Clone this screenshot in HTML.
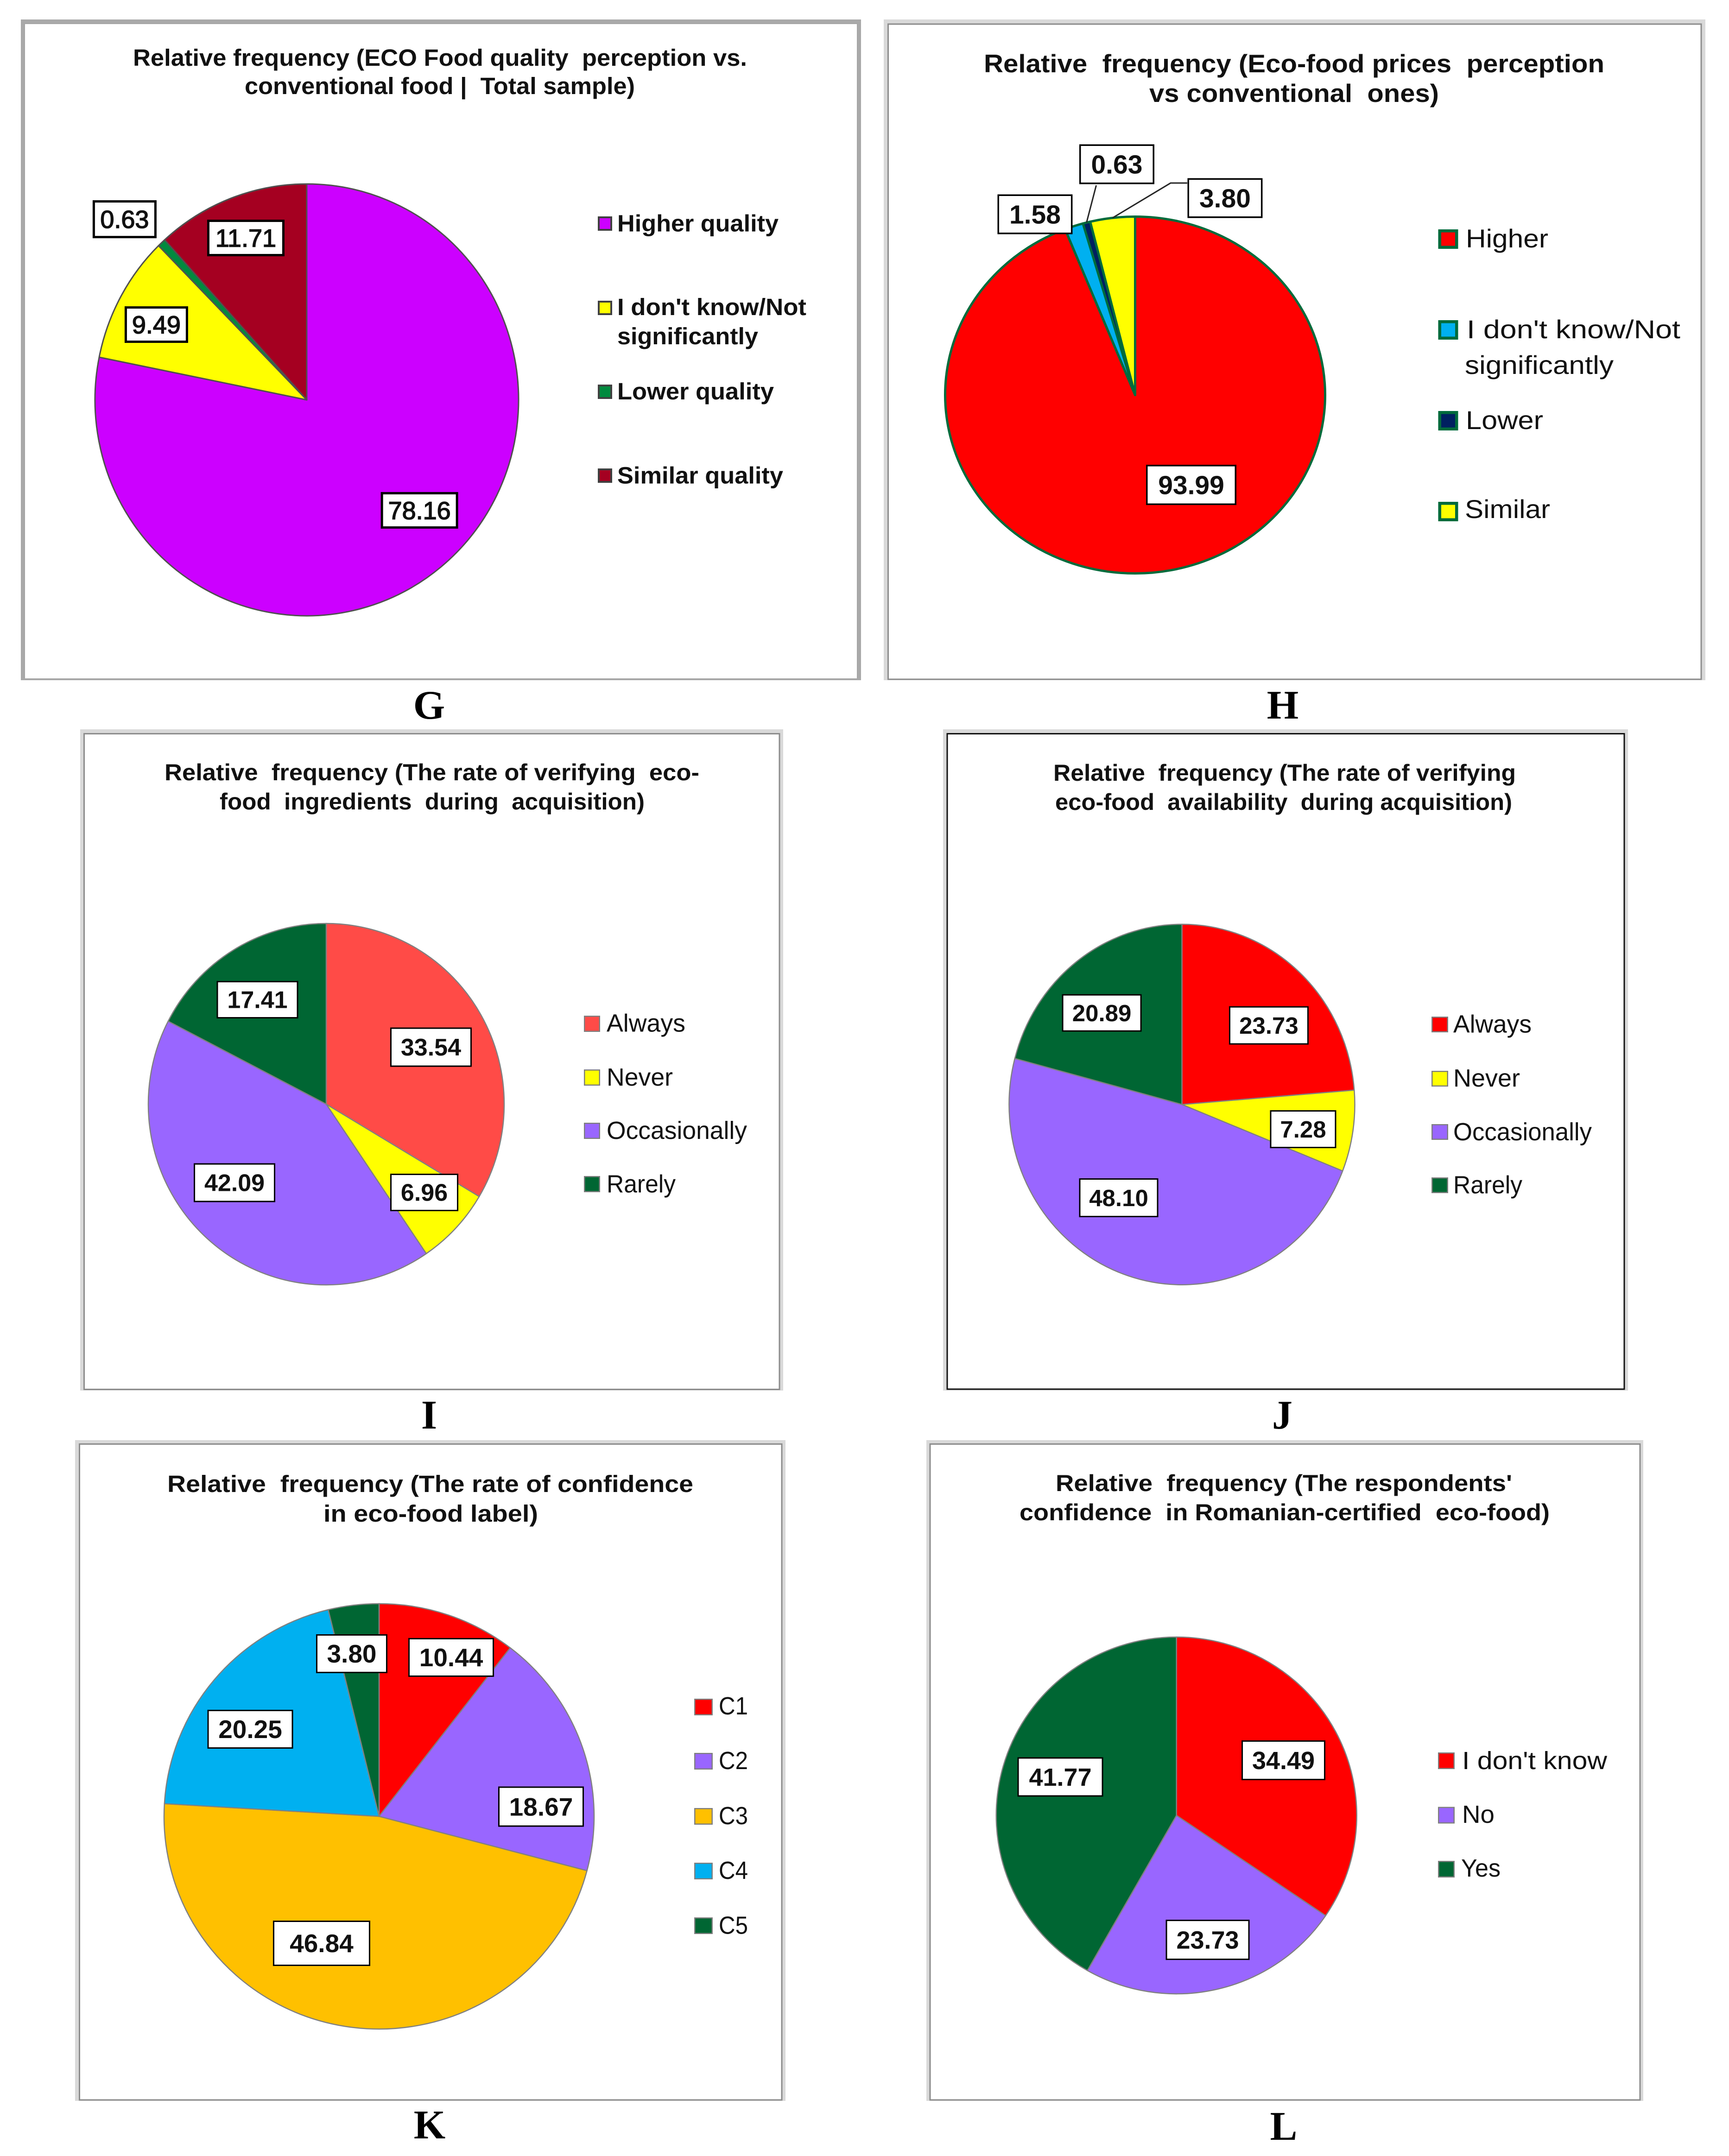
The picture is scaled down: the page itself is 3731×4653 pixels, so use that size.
<!DOCTYPE html>
<html lang="en">
<head>
<meta charset="utf-8">
<title>Relative frequency pie charts G to L</title>
<style>
html,body{margin:0;padding:0;background:#fff}
svg{display:block}
text{font-family:"Liberation Sans",sans-serif;fill:#111}
.ttl{font-weight:bold;white-space:pre}
.letter{font-family:"Liberation Serif",serif;font-weight:bold;font-size:88px;text-anchor:middle;fill:#000}
</style>
</head>
<body>
<svg id="figure" xmlns="http://www.w3.org/2000/svg" width="3731" height="4653" viewBox="0 0 3731 4653">
<rect x="0" y="0" width="3731" height="4653" fill="#fff"/>

<g>
<rect x="45" y="42" width="1813" height="1426" fill="#a9a9a9"/>
<rect x="53" y="51" width="1797" height="1414" fill="#fff" stroke="#a6a6a6" stroke-width="2"/>
<text class="ttl" x="287" y="142" font-size="51" textLength="1325" lengthAdjust="spacingAndGlyphs">Relative frequency (ECO Food quality  perception vs.</text>
<text class="ttl" x="528" y="203" font-size="51" textLength="842" lengthAdjust="spacingAndGlyphs">conventional food |  Total sample)</text>
<g id="chart-g"></g>
<text class="letter" x="926" y="1551">G</text>
</g>

<g>
<rect x="1907" y="42" width="1773" height="1426" fill="#d9d9d9"/>
<rect x="1916.5" y="52" width="1754.5" height="1414" fill="#fff" stroke="#8c8c8c" stroke-width="3"/>
<text class="ttl" x="2123" y="156" font-size="55" textLength="1339" lengthAdjust="spacingAndGlyphs">Relative  frequency (Eco-food prices  perception</text>
<text class="ttl" x="2480" y="220" font-size="55" textLength="625" lengthAdjust="spacingAndGlyphs">vs conventional  ones)</text>
<g id="chart-h"></g>
<text class="letter" x="2768" y="1551">H</text>
</g>

<g>
<rect x="173" y="1574" width="1517" height="1427" fill="#d9d9d9"/>
<rect x="181.5" y="1583.5" width="1500.5" height="1415" fill="#fff" stroke="#8c8c8c" stroke-width="3"/>
<text class="ttl" x="355" y="1684" font-size="50" textLength="1154" lengthAdjust="spacingAndGlyphs">Relative  frequency (The rate of verifying  eco-</text>
<text class="ttl" x="474" y="1747" font-size="50" textLength="917" lengthAdjust="spacingAndGlyphs">food  ingredients  during  acquisition)</text>
<g id="chart-i"></g>
<text class="letter" x="926" y="3083">I</text>
</g>

<g>
<rect x="2035" y="1574" width="1478" height="1427" fill="#d9d9d9"/>
<rect x="2044" y="1583.5" width="1461" height="1414.5" fill="#fff" stroke="#111" stroke-width="3"/>
<text class="ttl" x="2273" y="1685" font-size="50" textLength="998" lengthAdjust="spacingAndGlyphs">Relative  frequency (The rate of verifying</text>
<text class="ttl" x="2277" y="1748" font-size="50" textLength="986" lengthAdjust="spacingAndGlyphs">eco-food  availability  during acquisition)</text>
<g id="chart-j"></g>
<text class="letter" x="2767" y="3083">J</text>
</g>

<g>
<rect x="162" y="3108" width="1533" height="1426" fill="#d9d9d9"/>
<rect x="171.5" y="3116.5" width="1515.5" height="1415.5" fill="#fff" stroke="#8c8c8c" stroke-width="3"/>
<text class="ttl" x="361" y="3220" font-size="51" textLength="1135" lengthAdjust="spacingAndGlyphs">Relative  frequency (The rate of confidence</text>
<text class="ttl" x="698" y="3284" font-size="51" textLength="463" lengthAdjust="spacingAndGlyphs">in eco-food label)</text>
<g id="chart-k"></g>
<text class="letter" x="927" y="4615">K</text>
</g>

<g>
<rect x="1999" y="3108" width="1547" height="1426" fill="#d9d9d9"/>
<rect x="2007" y="3116.5" width="1532" height="1415.5" fill="#fff" stroke="#8c8c8c" stroke-width="3"/>
<text class="ttl" x="2278" y="3218" font-size="50" textLength="985" lengthAdjust="spacingAndGlyphs">Relative  frequency (The respondents'</text>
<text class="ttl" x="2200" y="3281" font-size="50" textLength="1144" lengthAdjust="spacingAndGlyphs">confidence  in Romanian-certified  eco-food)</text>
<g id="chart-l"></g>
<text class="letter" x="2770" y="4618">L</text>
</g>
</svg>

<script>
// ---- chart data ----
const gCategories = ["Higher quality", "I don't know/Not|significantly", "Lower quality", "Similar quality"];
const gValues = [78.16, 9.49, 0.63, 11.71];
const hCategories = ["Higher", "I don't know/Not|significantly", "Lower", "Similar"];
const hValues = [93.99, 1.58, 0.63, 3.80];
const iCategories = ["Always", "Never", "Occasionally", "Rarely"];
const iValues = [33.54, 6.96, 42.09, 17.41];
const jCategories = ["Always", "Never", "Occasionally", "Rarely"];
const jValues = [23.73, 7.28, 48.10, 20.89];
const kCategories = ["C1", "C2", "C3", "C4", "C5"];
const kValues = [10.44, 18.67, 46.84, 20.25, 3.80];
const lCategories = ["I don't know", "No", "Yes"];
const lValues = [34.49, 23.73, 41.77];

// ---- colours ----
const gColors = ["#cc00ff", "#ffff00", "#008a3e", "#a50021"];
const hColors = ["#ff0000", "#00b0f0", "#002060", "#ffff00"];
const iColors = ["#ff4b47", "#ffff00", "#9966ff", "#006633"];
const jColors = ["#ff0000", "#ffff00", "#9966ff", "#006633"];
const kColors = ["#ff0000", "#9966ff", "#ffc000", "#00b0f0", "#006633"];
const lColors = ["#ff0000", "#9966ff", "#006633"];

// ---- layout (geometry only, never data) ----
// shift: label offset from its slice-mid anchor [dx, dy], then box size [w, h]
const gLayout = {
  id: "g", cx: 662, cy: 863, rx: 457, ry: 466, line: "#505050", lineW: 3,
  fontSize: 54, weight: "normal", textStroke: 1.6, boxStroke: 5,
  shift: [[55, 4, 167, 79], [-63.5, -18, 137, 79], [-189.4, -169.4, 138, 82], [-24.7, -66.8, 167, 79]],
  leaders: [null, null, null, null],
  sw: {x: 1290, w: 31, h: 31, stroke: 4, color: "#404040"},
  tops: [467, 649, 830, 1011],
  legendFont: 51, legendWeight: "bold",
  lines: [[[1332, 499.5, 348]], [[1332, 680, 408], [1332, 743, 304]], [[1332, 862, 338]], [[1332, 1043.5, 358]]]
};
const hLayout = {
  id: "h", cx: 2449.5, cy: 852.5, rx: 410, ry: 385, line: "#006b3c", lineW: 5,
  fontSize: 57, weight: "bold", textStroke: 0, boxStroke: 3.5,
  shift: [[71, -51.8, 195, 87], [-130.2, -153.1, 162, 86], [28.6, -256.1, 162, 86], [225.7, -176.5, 162, 86]],
  leaders: [null, null, [[-44.4, 45.5]], [[-81.5, -32.5], [-117.5, -32.5]]],
  sw: {x: 3103.5, w: 43, h: 42, stroke: 6.5, color: "#006b3c"},
  tops: [495, 691, 887, 1083],
  legendFont: 56, legendWeight: "normal",
  lines: [[[3163, 534, 178]], [[3165, 730, 461], [3161, 807, 321]], [[3163, 926, 167]], [[3161, 1118, 184]]]
};
const iLayout = {
  id: "i", cx: 704, cy: 2383, rx: 384, ry: 390, line: "#808080", lineW: 2.5,
  fontSize: 52, weight: "bold", textStroke: 0, boxStroke: 3,
  shift: [[9, 2.3, 176, 85], [29.8, 16.7, 147, 81], [-32.4, -20.2, 176, 84], [-18.7, -9, 176, 81]],
  leaders: [null, null, null, null],
  sw: {x: 1260, w: 35, h: 35, stroke: 2.5, color: "#7f7f7f"},
  tops: [2192, 2308, 2423, 2538],
  legendFont: 54, legendWeight: "normal",
  lines: [[[1309, 2226.6, 170]], [[1309, 2343, 143]], [[1309, 2458, 303]], [[1309, 2573.5, 149]]]
};
const jLayout = {
  id: "j", cx: 2550.5, cy: 2383.7, rx: 373, ry: 389, line: "#808080", lineW: 2.5,
  fontSize: 51, weight: "bold", textStroke: 0, boxStroke: 3,
  shift: [[23, 15.1, 172, 83], [21.7, 15.8, 143, 82], [-60.7, -38.9, 171, 84], [-25, 2.7, 172, 81]],
  leaders: [null, null, null, null],
  sw: {x: 3089, w: 36, h: 34, stroke: 2.5, color: "#7f7f7f"},
  tops: [2194, 2311, 2426, 2541],
  legendFont: 54, legendWeight: "normal",
  lines: [[[3136, 2228.6, 169]], [[3136, 2345, 144]], [[3136, 2461, 299]], [[3136, 2575.5, 149]]]
};
const kLayout = {
  id: "k", cx: 818, cy: 3920, rx: 464, ry: 459, line: "#808080", lineW: 2.5,
  fontSize: 55, weight: "bold", textStroke: 0, boxStroke: 3,
  shift: [[58.4, -60.6, 185, 84], [64, 75.2, 185, 87], [-76.3, -20.6, 210, 98], [-46.5, 3.2, 185, 84], [-23.1, -54.8, 154, 84]],
  leaders: [null, null, null, null, null],
  sw: {x: 1498, w: 40, h: 36, stroke: 2.5, color: "#7f7f7f"},
  tops: [3666, 3783, 3902, 4020, 4138],
  legendFont: 54, legendWeight: "normal",
  lines: [[[1551, 3700, 63]], [[1551, 3818, 63]], [[1551, 3937, 63]], [[1551, 4055, 63]], [[1551, 4173.5, 63]]]
};
const lLayout = {
  id: "l", cx: 2538.7, cy: 3918, rx: 389, ry: 385, line: "#808080", lineW: 2.5,
  fontSize: 54, weight: "bold", textStroke: 0, boxStroke: 3,
  shift: [[7.4, -1.9, 181, 86], [10, 24.8, 181, 87], [-6.2, -19.1, 185, 85]],
  leaders: [null, null, null],
  sw: {x: 3103, w: 36, h: 36, stroke: 2.5, color: "#7f7f7f"},
  tops: [3782, 3899.5, 4016],
  legendFont: 54, legendWeight: "normal",
  lines: [[[3155, 3818, 313]], [[3155, 3934, 70]], [[3153, 4050, 85]]]
};

const SVGNS = "http://www.w3.org/2000/svg";
const LABEL_RADIUS = 0.65;

function make(tag, attrs) {
  const el = document.createElementNS(SVGNS, tag);
  for (const k in attrs) el.setAttribute(k, attrs[k]);
  return el;
}
function slug(s) {
  return s.toLowerCase().replace(/[^a-z0-9]+/g, "-").replace(/^-|-$/g, "");
}
// angle axis: fraction of the total, clockwise from 12 o'clock
function pointAt(L, frac, r) {
  const a = frac * 2 * Math.PI;
  return [L.cx + L.rx * r * Math.sin(a), L.cy - L.ry * r * Math.cos(a)];
}

function drawPie(L, categories, values, colors) {
  const root = document.getElementById("chart-" + L.id);
  const total = values.reduce((s, v) => s + v, 0);
  const overlays = [];
  let cum = 0;

  values.forEach((v, i) => {
    const frac = v / total;
    const start = cum, end = cum + frac, mid = cum + frac / 2;
    cum = end;
    const name = slug(categories[i].replace("|", " "));
    const p0 = pointAt(L, start, 1), p1 = pointAt(L, end, 1);
    const large = frac > 0.5 ? 1 : 0;
    const slice = make("path", {
      d: "M" + L.cx + " " + L.cy + " L" + p0[0] + " " + p0[1] +
         " A" + L.rx + " " + L.ry + " 0 " + large + " 1 " + p1[0] + " " + p1[1] + " Z",
      fill: colors[i], stroke: L.line, "stroke-width": L.lineW, "stroke-linejoin": "round"
    });
    
    
    root.appendChild(slice);
    overlays.push({i: i, mid: mid, name: name, value: v});
  });

  overlays.forEach(o => {
    const s = L.shift[o.i];
    const anchor = pointAt(L, o.mid, LABEL_RADIUS);
    const lx = anchor[0] + s[0], ly = anchor[1] + s[1];
    const leader = L.leaders[o.i];
    if (leader) {
      const edge = pointAt(L, o.mid, 1);
      const pts = leader.map(p => (lx + p[0]) + "," + (ly + p[1])).join(" ") + " " + edge[0] + "," + edge[1];
      const line = make("polyline", {points: pts, fill: "none", stroke: "#262626", "stroke-width": 3});
      
      
      root.appendChild(line);
    }
    const box = make("rect", {
      x: lx - (s[2] - L.boxStroke) / 2, y: ly - (s[3] - L.boxStroke) / 2,
      width: s[2] - L.boxStroke, height: s[3] - L.boxStroke,
      fill: "#fff", stroke: "#000", "stroke-width": L.boxStroke
    });
    
    
    root.appendChild(box);
    const txt = make("text", {
      x: lx, y: ly + L.fontSize * 0.35, "text-anchor": "middle",
      "font-size": L.fontSize, "font-weight": L.weight
    });
    if (L.textStroke) {
      txt.setAttribute("stroke", "#111");
      txt.setAttribute("stroke-width", L.textStroke);
    }
    txt.textContent = o.value.toFixed(2);
    
    
    root.appendChild(txt);
  });

  categories.forEach((c, i) => {
    const name = slug(c.replace("|", " "));
    const entry = make("g", {});
    
    
    const sw = L.sw;
    const swatch = make("rect", {
      x: sw.x + sw.stroke / 2, y: L.tops[i] + sw.stroke / 2,
      width: sw.w - sw.stroke, height: sw.h - sw.stroke,
      fill: colors[i], stroke: sw.color, "stroke-width": sw.stroke
    });
    
    
    entry.appendChild(swatch);
    c.split("|").forEach((part, k) => {
      const g = L.lines[i][k];
      const t = make("text", {
        x: g[0], y: g[1], "font-size": L.legendFont, "font-weight": L.legendWeight,
        textLength: g[2], lengthAdjust: "spacingAndGlyphs"
      });
      t.textContent = part;
      
      
      entry.appendChild(t);
    });
    root.appendChild(entry);
  });
}

drawPie(gLayout, gCategories, gValues, gColors);
drawPie(hLayout, hCategories, hValues, hColors);
drawPie(iLayout, iCategories, iValues, iColors);
drawPie(jLayout, jCategories, jValues, jColors);
drawPie(kLayout, kCategories, kValues, kColors);
drawPie(lLayout, lCategories, lValues, lColors);
</script>
</body>
</html>
